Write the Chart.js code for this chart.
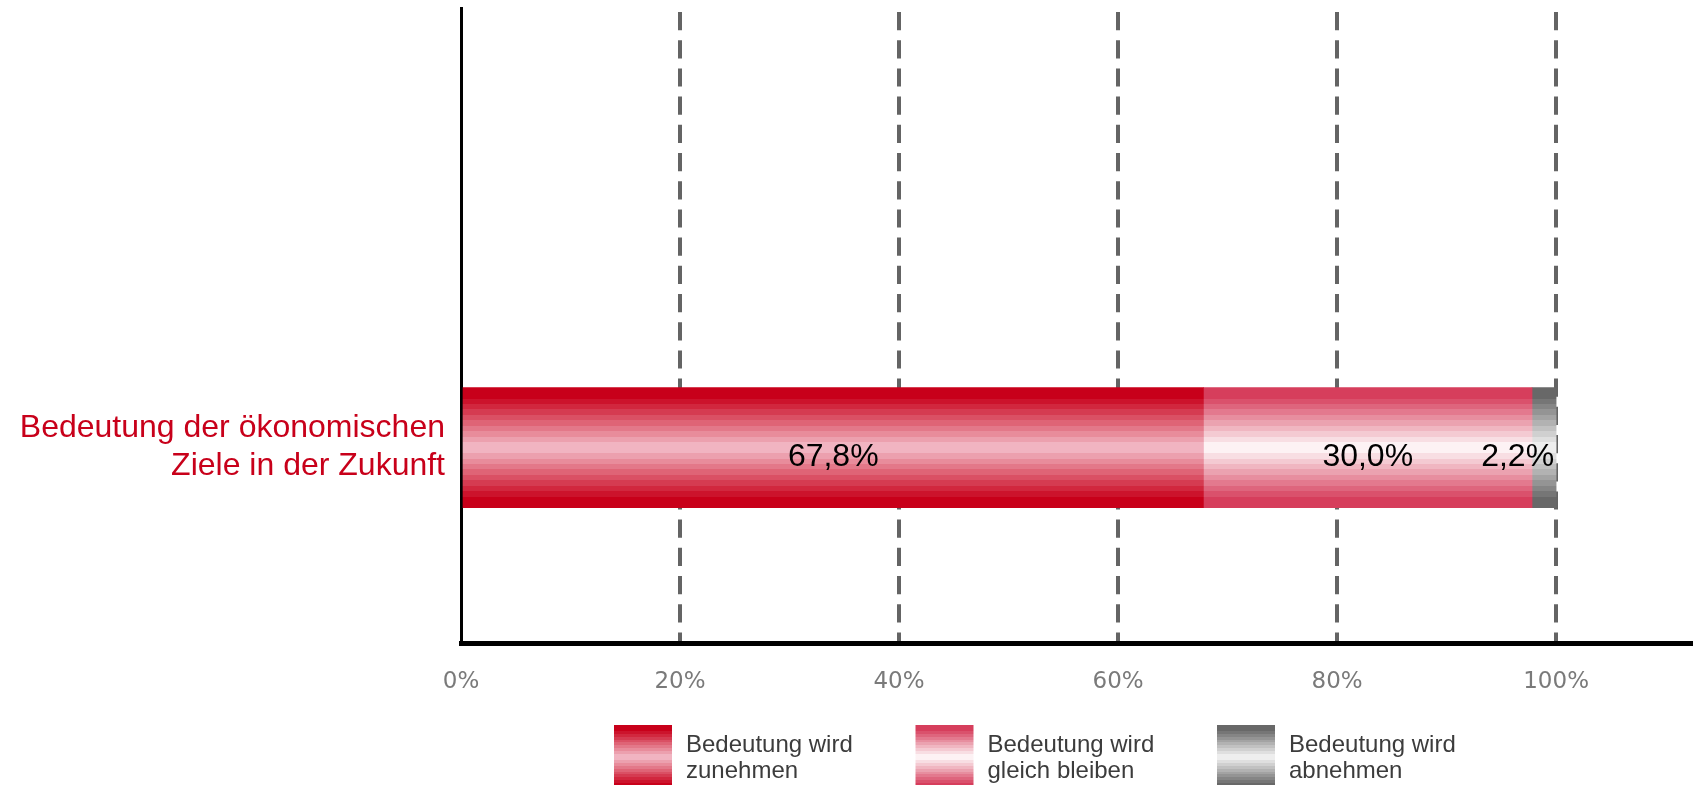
<!DOCTYPE html>
<html>
<head>
<meta charset="utf-8">
<script src="https://cdn.jsdelivr.net/npm/chart.js@4/dist/chart.umd.min.js"></script>
<style>
  html, body { margin: 0; padding: 0; background: #fff; overflow: hidden; }
  canvas { display: block; }
</style>
</head>
<body>
<canvas id="c" width="1693" height="785"></canvas>
<script>
// ---- data ----
const categories = [['Bedeutung der ökonomischen', 'Ziele in der Zukunft']];
const seriesNames = [
  ['Bedeutung wird', 'zunehmen'],
  ['Bedeutung wird', 'gleich bleiben'],
  ['Bedeutung wird', 'abnehmen']
];
const valuesZunehmen = [67.8];
const valuesGleich = [30.0];
const valuesAbnehmen = [2.2];
const xTickValues = [0, 20, 40, 60, 80, 100];
const xTickLabels = ['0%', '20%', '40%', '60%', '80%', '100%'];

// ---- styling ----
// each series is shaded in horizontal bands: [edge colour, centre colour]
const seriesShades = [
  [[200, 0, 26], [243, 190, 202]],
  [[214, 62, 92], [255, 252, 253]],
  [[104, 104, 104], [246, 246, 246]]
];
const BAR_THICKNESS = 120;
const LEGEND = { left: 614, step: 301.5, top: 725, boxW: 58, boxH: 64, textDx: 72, line1: 752, line2: 778 };
const SANS = '"Liberation Sans", Arial, sans-serif';

function bandedGradient(ctx, top, bottom, shade) {
  const g = ctx.createLinearGradient(0, top, 0, bottom);
  const n = 22;
  for (let k = 0; k < n; k++) {
    const t = (k + 0.5) / n;
    const d = Math.min(1, Math.abs(t - 0.5) * 2 / 0.86);
    const c = shade[0].map((e, j) => Math.round(shade[1][j] + (e - shade[1][j]) * d));
    const col = 'rgb(' + c.join(',') + ')';
    g.addColorStop(k / n, col);
    g.addColorStop((k + 1) / n, col);
  }
  return g;
}

function barFill(context, i) {
  const chart = context.chart;
  const yScale = chart.scales.y;
  const shade = seriesShades[i];
  if (!yScale || !chart.chartArea) return 'rgb(' + shade[0].join(',') + ')';
  const raw = context.raw || { y: 0 };
  const c = yScale.getPixelForValue(raw.y);
  return bandedGradient(chart.ctx, c - BAR_THICKNESS / 2, c + BAR_THICKNESS / 2, shade);
}

const seriesValues = [valuesZunehmen, valuesGleich, valuesAbnehmen];

// value labels on the bar segments and the legend underneath
const overlay = {
  id: 'overlay',
  afterDatasetsDraw(chart) {
    const ctx = chart.ctx;
    ctx.save();
    ctx.font = '32px ' + SANS;
    ctx.fillStyle = '#000';
    ctx.textBaseline = 'alphabetic';
    ctx.textAlign = 'center';
    chart.data.datasets.forEach((ds, i) => {
      const meta = chart.getDatasetMeta(i);
      meta.data.forEach((el, j) => {
        const v = ds.data[j].x;
        const txt = v.toFixed(1).replace('.', ',') + '%';
        const p = el.getProps(['x', 'base', 'y'], true);
        const w = ctx.measureText(txt).width;
        let cx = (p.x + p.base) / 2;
        // a label wider than its segment is kept inside the bar end
        if (w > Math.abs(p.x - p.base) - 6) cx = p.x - 2 - w / 2;
        ctx.fillText(txt, cx, p.y + 18);
      });
    });
    ctx.restore();
  },
  afterDraw(chart) {
    const ctx = chart.ctx;
    ctx.save();
    ctx.font = '24px ' + SANS;
    ctx.textAlign = 'left';
    ctx.textBaseline = 'alphabetic';
    seriesNames.forEach((name, i) => {
      const x = LEGEND.left + i * LEGEND.step;
      ctx.fillStyle = bandedGradient(ctx, LEGEND.top, LEGEND.top + LEGEND.boxH, seriesShades[i]);
      ctx.fillRect(x, LEGEND.top, LEGEND.boxW, LEGEND.boxH);
      ctx.fillStyle = '#3c3c3c';
      ctx.fillText(name[0], x + LEGEND.textDx, LEGEND.line1);
      ctx.fillText(name[1], x + LEGEND.textDx, LEGEND.line2);
    });
    ctx.restore();
  }
};

new Chart(document.getElementById('c'), {
  type: 'bar',
  data: {
    datasets: seriesValues.map((vals, i) => ({
      label: seriesNames[i].join(' '),
      data: vals.map((v, j) => ({ x: v, y: j })),
      backgroundColor: (context) => barFill(context, i),
      borderWidth: 0,
      barThickness: BAR_THICKNESS
    }))
  },
  options: {
    responsive: false,
    animation: false,
    devicePixelRatio: 1,
    indexAxis: 'y',
    layout: { padding: { top: 8, left: 0, right: 0, bottom: 0 } },
    plugins: { legend: { display: false }, tooltip: { enabled: false } },
    scales: {
      x: {
        type: 'linear',
        stacked: true,
        min: 0,
        max: 112.5,
        afterBuildTicks: (s) => { s.ticks = xTickValues.map(v => ({ value: v })); },
        afterFit: (s) => { s.height = 142; s.paddingLeft = 0; s.paddingRight = 0; },
        grid: {
          color: (c) => (c.tick && c.tick.value === 0) ? 'rgba(0,0,0,0)' : '#646464',
          lineWidth: 4,
          drawTicks: false
        },
        border: { display: true, color: '#000', width: 5, dash: [18.2, 10], dashOffset: 24.2 },
        ticks: {
          callback: (v) => { const k = xTickValues.indexOf(v); return k >= 0 ? xTickLabels[k] : ''; },
          font: { family: 'DejaVu Sans', size: 23 },
          color: '#7a7a7a',
          padding: 25,
          maxRotation: 0,
          autoSkip: false
        }
      },
      y: {
        type: 'linear',
        stacked: true,
        offset: false,
        min: -1,
        max: 2.25,
        z: 1,
        afterBuildTicks: (s) => { s.ticks = categories.map((_, i) => ({ value: i })); },
        afterFit: (s) => { s.width = 461; s.paddingTop = 0; s.paddingBottom = 0; },
        grid: { display: false, drawTicks: false, offset: false },
        border: { display: true, color: '#000', width: 3 },
        ticks: {
          callback: (v) => categories[v],
          font: { family: 'Liberation Sans', size: 32, lineHeight: 1.19 },
          color: '#c8001a',
          padding: 16,
          autoSkip: false
        }
      }
    }
  },
  plugins: [overlay]
});
</script>
</body>
</html>
